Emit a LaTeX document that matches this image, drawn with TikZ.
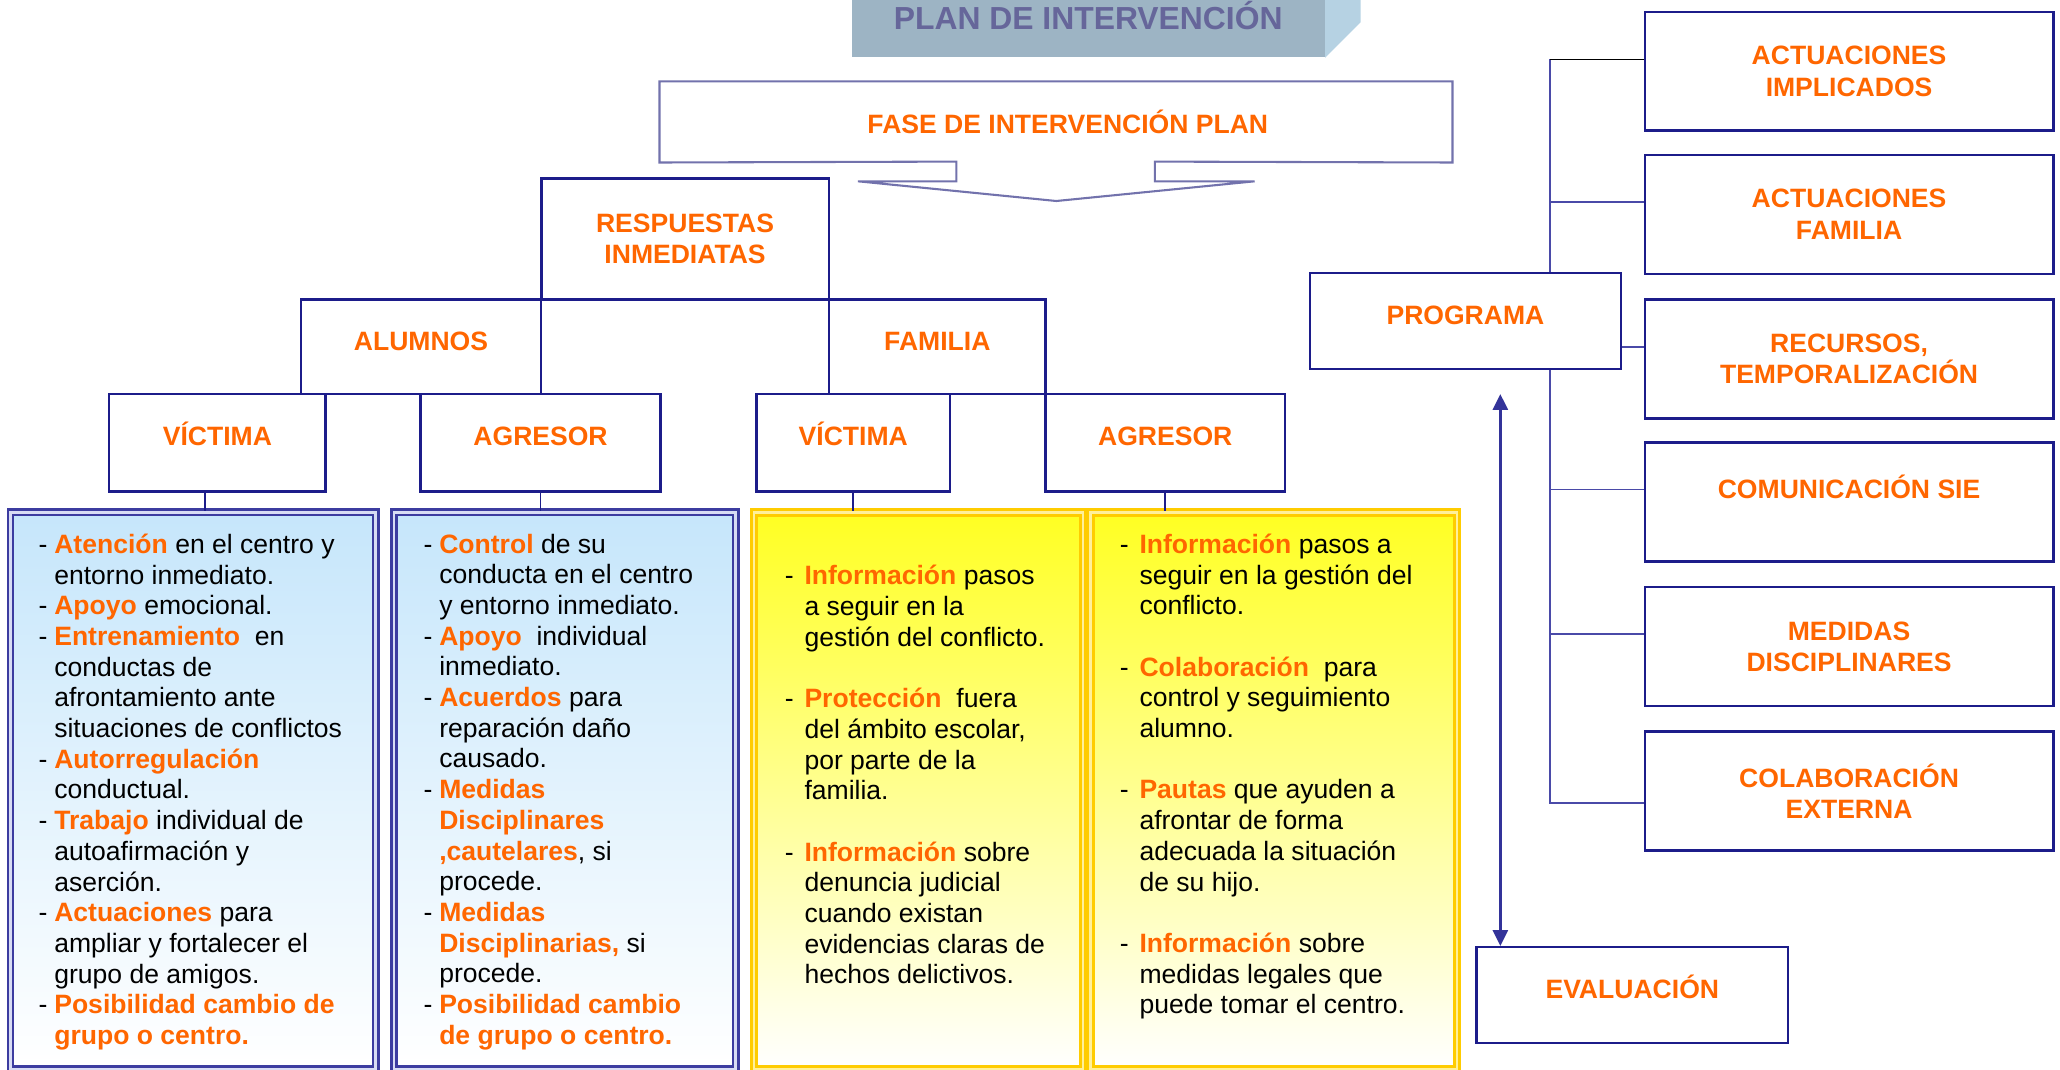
\documentclass[tikz,border=0pt]{standalone}
\usepackage{fontspec}
\setmainfont{Liberation Sans}
\usepackage{xcolor}
\usetikzlibrary{arrows.meta, positioning}

\definecolor{navy}{HTML}{1C1C8A}
\definecolor{treeblue}{HTML}{4A4AA8}
\definecolor{arrowblue}{HTML}{333399}
\definecolor{fasegray}{HTML}{7272AC}
\definecolor{orng}{HTML}{FF6600}
\definecolor{titlefill}{HTML}{9DB4C4}
\definecolor{titleside}{HTML}{B6D2E3}
\definecolor{titletext}{HTML}{66669A}
\definecolor{skyblue}{HTML}{C6E6FB}
\definecolor{frameblue}{HTML}{3C3CA0}
\definecolor{gapblue}{HTML}{D8DCF4}
\definecolor{gold}{HTML}{FFCC00}
\definecolor{paleyellow}{HTML}{FFF09A}
\definecolor{lemon}{HTML}{FFFF22}

\newcommand{\hl}[1]{\textcolor{orng}{\textbf{#1}}}
\newcommand{\itm}[1][0.24cm]{\makebox[#1][l]{-}}
\newcommand{\ind}[1][0.24cm]{\hspace*{#1}}

\begin{document}
\begin{tikzpicture}[
    x=0.02cm, y=-0.02cm,                      % one unit = one pixel of the sketch
    box/.style={draw=navy, line width=1.1pt, anchor=north west, inner sep=0pt,
                align=center, text=orng,
                font=\bfseries\fontsize{11.5pt}{13.6pt}\selectfont},
    oneline/.style={text height=0.3cm, text depth=0.2cm},  % label a bit above centre
    rbox/.style={box, minimum width=6.22cm, minimum height=1.81cm},
    blist/.style={draw=frameblue, double=gapblue, double distance=1.2pt,
                  line width=1.1pt, anchor=north west,
                  top color=skyblue, bottom color=white, minimum height=8.48cm},
    ylist/.style={draw=gold, double=paleyellow, double distance=1pt,
                  line width=1.3pt, anchor=north west,
                  top color=lemon, bottom color=white, minimum height=8.48cm},
    items/.style={anchor=north west, inner sep=0pt, align=left,
                  font=\fontsize{11.5pt}{13.3pt}\selectfont},
    link/.style={draw=navy, line width=0.8pt},
    tree/.style={draw=treeblue, line width=0.7pt}
  ]
  \useasboundingbox (0,0) rectangle (1568,814);

  % title
  \node[fill=titlefill, minimum width=7.2cm, minimum height=1.28cm, anchor=south west,
        inner sep=0pt, text=titletext,
        font=\bfseries\fontsize{13.8pt}{16pt}\selectfont] (title) at (648,44)
        {PLAN DE INTERVENCIÓN};
  \fill[titleside] (title.north east) -- ++(27,0)
        -- ([shift={(27,-27)}]title.south east) -- (title.south east) -- cycle;

  % phase with arrow below
  \node[anchor=north west, minimum width=12.06cm, minimum height=1.22cm, inner sep=0pt,
        text=orng, font=\bfseries\fontsize{11.5pt}{13.3pt}\selectfont] (fase) at (502,62)
        {\hspace*{0.36cm}FASE DE INTERVENCIÓN PLAN};
  \draw[fasegray, line width=0.9pt] (fase.south west) -- (728,123) -- (728,138)
        -- (653,138) -- (804,153) -- (955,138) -- (879,138) -- (879,123)
        -- (fase.south east) -- (fase.north east) -- (fase.north west) -- cycle;

  % immediate answers
  \node[box, minimum width=4.38cm, minimum height=1.84cm] (resp) at (411,135) {RESPUESTAS\\INMEDIATAS};
  \node[box, oneline, minimum width=3.66cm, minimum height=1.44cm] (alum) at (228,227) {ALUMNOS};
  \node[box, oneline, minimum width=3.3cm, minimum height=1.44cm] (fami) at (630,227) {FAMILIA};
  \node[box, oneline, minimum width=3.3cm, minimum height=1.48cm] (vic1) at (82,299) {VÍCTIMA};
  \node[box, oneline, minimum width=3.66cm, minimum height=1.48cm] (agr1) at (319,299) {AGRESOR};
  \node[box, oneline, minimum width=2.94cm, minimum height=1.48cm] (vic2) at (575,299) {VÍCTIMA};
  \node[box, oneline, minimum width=3.64cm, minimum height=1.48cm] (agr2) at (795,299) {AGRESOR};

  % lists
  \node[blist, minimum width=5.56cm] (lst1) at (7,389) {};
  \node[blist, minimum width=5.2cm] (lst2) at (299,389) {};
  \node[ylist, minimum width=5cm] (lst3) at (573,389) {};
  \node[ylist, minimum width=5.58cm] (lst4) at (829,389) {};

  \coordinate (v1) at ([xshift=-0.19cm]vic1.south);
  \draw[link] (v1) -- (v1 |- lst1.north);
  \draw[link] (agr1.south) -- (agr1.south |- lst2.north);
  \draw[link] (vic2.south) -- (vic2.south |- lst3.north);
  \draw[link] (agr2.south) -- (agr2.south |- lst4.north);

  \node[items] (txt1) at (29,406) {%
    \itm\hl{Atención} en el centro y\\ \ind entorno inmediato.\\
    \itm\hl{Apoyo} emocional.\\
    \itm\hl{Entrenamiento}\ \ en\\ \ind conductas de\\ \ind afrontamiento ante\\
    \ind situaciones de conflictos\\
    \itm\hl{Autorregulación}\\ \ind conductual.\\
    \itm\hl{Trabajo} individual de\\ \ind autoafirmación y\\ \ind aserción.\\
    \itm\hl{Actuaciones} para\\ \ind ampliar y fortalecer el\\ \ind grupo de amigos.\\
    \itm\hl{Posibilidad cambio de}\\ \ind\hl{grupo o centro.}};
  \node[items] (txt2) at (322,406) {%
    \itm\hl{Control} de su\\ \ind conducta en el centro\\ \ind y entorno inmediato.\\
    \itm\hl{Apoyo}\ \ individual\\ \ind inmediato.\\
    \itm\hl{Acuerdos} para\\ \ind reparación daño\\ \ind causado.\\
    \itm\hl{Medidas}\\ \ind\hl{Disciplinares}\\ \ind\hl{,cautelares}, si\\ \ind procede.\\
    \itm\hl{Medidas}\\ \ind\hl{Disciplinarias,} si\\ \ind procede.\\
    \itm\hl{Posibilidad cambio}\\ \ind\hl{de grupo o centro.}};
  \node[items] (txt3) at (597,430) {%
    \itm[0.3cm]\hl{Información} pasos\\ \ind[0.3cm]a seguir en la\\
    \ind[0.3cm]gestión del conflicto.\\[13.3pt]
    \itm[0.3cm]\hl{Protección}\ \ fuera\\ \ind[0.3cm]del ámbito escolar,\\
    \ind[0.3cm]por parte de la\\ \ind[0.3cm]familia.\\[13.3pt]
    \itm[0.3cm]\hl{Información} sobre\\ \ind[0.3cm]denuncia judicial\\
    \ind[0.3cm]cuando existan\\ \ind[0.3cm]evidencias claras de\\
    \ind[0.3cm]hechos delictivos.};
  \node[items] (txt4) at (852,406) {%
    \itm[0.3cm]\hl{Información} pasos a\\ \ind[0.3cm]seguir en la gestión del\\
    \ind[0.3cm]conflicto.\\[13.3pt]
    \itm[0.3cm]\hl{Colaboración}\ \ para\\ \ind[0.3cm]control y seguimiento\\
    \ind[0.3cm]alumno.\\[13.3pt]
    \itm[0.3cm]\hl{Pautas} que ayuden a\\ \ind[0.3cm]afrontar de forma\\
    \ind[0.3cm]adecuada la situación\\ \ind[0.3cm]de su hijo.\\[13.3pt]
    \itm[0.3cm]\hl{Información} sobre\\ \ind[0.3cm]medidas legales que\\
    \ind[0.3cm]puede tomar el centro.};

  % programme
  \node[box, oneline, minimum width=4.74cm, minimum height=1.46cm] (prog) at (996,207) {PROGRAMA};
  \node[rbox] (act1) at (1251,8) {ACTUACIONES\\IMPLICADOS};
  \node[rbox] (act2) at (1251,117) {ACTUACIONES\\FAMILIA};
  \node[rbox] (rec) at (1251,227) {RECURSOS,\\TEMPORALIZACIÓN};
  \node[rbox, text height=0.3cm, text depth=0.4cm] (com) at (1251,336) {COMUNICACIÓN SIE};
  \node[rbox] (med) at (1251,446) {MEDIDAS\\DISCIPLINARES};
  \node[rbox] (col) at (1251,556) {COLABORACIÓN\\EXTERNA};
  \node[box, oneline, minimum width=4.74cm, minimum height=1.46cm] (eval) at (1123,720) {EVALUACIÓN};

  \coordinate (trunk) at ([xshift=1.29cm]prog.north);
  \coordinate (trunkbot) at ([xshift=1.29cm]prog.south);
  \coordinate (b1) at ([yshift=0.18cm]act1.west);
  \coordinate (b3) at ([yshift=0.18cm]rec.west);
  \draw[tree] (trunk) -- (trunk |- b1);
  \draw[black, line width=0.7pt] (trunk |- b1) -- (b1);
  \draw[tree] (trunk) |- ([yshift=0.19cm]act2.west);
  \draw[tree] (b3) -- (b3 -| prog.east);
  \draw[tree] (trunkbot) |- ([yshift=0.19cm]com.west);
  \draw[tree] (trunkbot) |- ([yshift=0.19cm]med.west);
  \draw[tree] (trunkbot) |- ([yshift=-0.18cm]col.west);

  % evaluation loop
  \coordinate (artop) at (1142,300);
  \draw[arrowblue, line width=1pt,
        {Triangle[width=0.23cm,length=0.24cm]}-{Triangle[width=0.23cm,length=0.24cm]}]
        (artop) -- (artop |- eval.north);
\end{tikzpicture}
\end{document}
